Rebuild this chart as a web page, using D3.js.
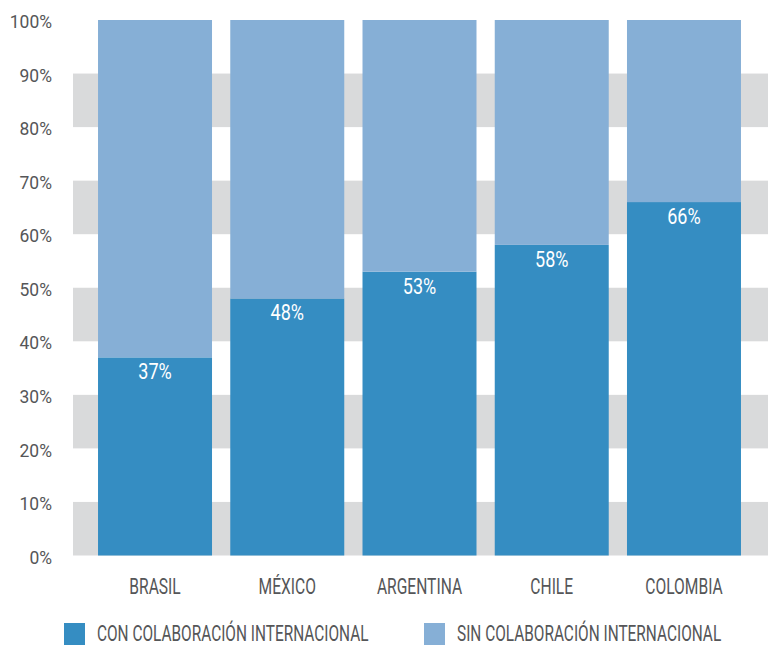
<!DOCTYPE html>
<html>
<head>
<meta charset="utf-8">
<script src="https://cdn.jsdelivr.net/npm/d3@7"></script>
<style>
  html, body { margin: 0; padding: 0; background: #fff; }
  svg text { font-family: Roboto, "Liberation Sans", sans-serif; }
</style>
</head>
<body>
<svg id="chart" width="768" height="645"></svg>
<script>
// Share of output with / without international collaboration, by country
const countries = ["BRASIL", "MÉXICO", "ARGENTINA", "CHILE", "COLOMBIA"];
const conColaboracion = [37, 48, 53, 58, 66];
const sinColaboracion = conColaboracion.map(v => 100 - v);
const yTicks = [0, 10, 20, 30, 40, 50, 60, 70, 80, 90, 100];
const seriesNames = ["CON COLABORACIÓN INTERNACIONAL", "SIN COLABORACIÓN INTERNACIONAL"];
const seriesColors = ["#358dc2", "#86afd6"];

const svg = d3.select("#chart");
const textColor = "#555658";
// Condensed lettering: horizontal squeeze applied to each text group
const squeezeTick = 0.92, squeezeValue = 0.82, squeezeLabel = 0.71, squeezeLegend = 0.685;

const x = d3.scaleBand()
  .domain(countries)
  .range([88.9, 750.1])
  .paddingInner(0.138)
  .paddingOuter(0.069);

const y = d3.scaleLinear().domain([0, 100]).range([555.5, 20]);

// Alternating background bands
const bands = yTicks.filter(t => t < 100 && (t / 10) % 2 === 0);
svg.append("g").selectAll("rect")
  .data(bands)
  .join("rect")
  .attr("x", 73)
  .attr("width", 768 - 73)
  .attr("y", d => y(d + 10))
  .attr("height", d => y(d) - y(d + 10))
  .attr("fill", "#d9dadb");

// Y axis labels
const yAxis = d3.axisLeft(y).tickValues(yTicks).tickFormat(d => d + "%").tickSize(0).tickPadding(0);
const gy = svg.append("g").attr("transform", "translate(52,0)").call(yAxis);
gy.select(".domain").remove();
gy.selectAll("text")
  .attr("fill", textColor)
  .attr("font-size", 19)
  .attr("dy", "0.4em")
  .attr("transform", `scale(${squeezeTick},1)`)
  .style("font-family", null);

// Stacked bars
const rows = countries.map((c, i) => ({ country: c, con: conColaboracion[i], sin: sinColaboracion[i] }));
const stack = d3.stack().keys(["con", "sin"])(rows);

svg.append("g").selectAll("g")
  .data(stack)
  .join("g")
  .attr("fill", (d, i) => seriesColors[i])
  .selectAll("rect")
  .data(d => d)
  .join("rect")
  .attr("x", d => x(d.data.country))
  .attr("width", x.bandwidth())
  .attr("y", d => y(d[1]))
  .attr("height", d => y(d[0]) - y(d[1]));

// Value labels inside the dark segment
svg.append("g").selectAll("text")
  .data(rows)
  .join("text")
  .attr("transform", d => `translate(${x(d.country) + x.bandwidth() / 2},${y(d.con) + 22}) scale(${squeezeValue},1)`)
  .attr("text-anchor", "middle")
  .attr("fill", "#ffffff")
  .attr("font-size", 22)
  .text(d => d.con + "%");

// Category axis
const xAxis = d3.axisBottom(x).tickSize(0).tickPadding(0);
const gx = svg.append("g").attr("transform", "translate(0,594)").call(xAxis);
gx.select(".domain").remove();
gx.selectAll("text")
  .attr("fill", textColor)
  .attr("font-size", 22)
  .attr("dy", 0)
  .attr("transform", `scale(${squeezeLabel},1)`)
  .style("font-family", null);

// Legend
const legendX = [64, 424];
const legend = svg.append("g").selectAll("g")
  .data(seriesNames)
  .join("g")
  .attr("transform", (d, i) => `translate(${legendX[i]},623)`);
legend.append("rect")
  .attr("width", 21).attr("height", 22)
  .attr("fill", (d, i) => seriesColors[i]);
legend.append("text")
  .attr("transform", `translate(33,18) scale(${squeezeLegend},1)`)
  .attr("fill", textColor)
  .attr("font-size", 22.5)
  .text(d => d);
</script>
</body>
</html>
